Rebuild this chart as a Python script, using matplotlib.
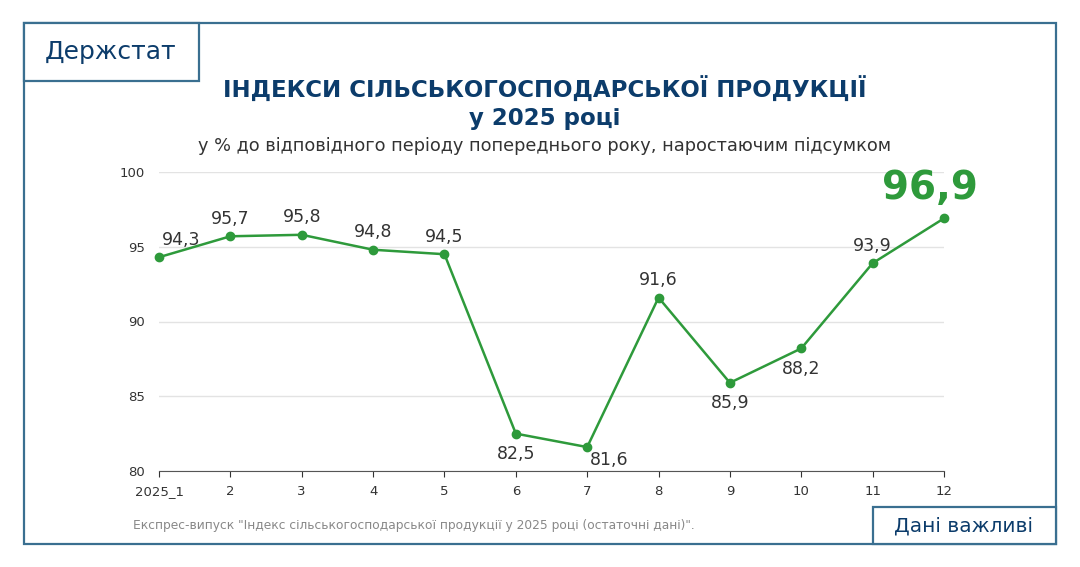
import matplotlib
matplotlib.use("Agg")
import matplotlib.pyplot as plt
from matplotlib.patches import Rectangle

months = list(range(1, 13))
tick_labels = ["2025_1"] + [str(i) for i in range(2, 13)]
values = [94.3, 95.7, 95.8, 94.8, 94.5, 82.5, 81.6, 91.6, 85.9, 88.2, 93.9, 96.9]
label_pos = ["upr", "up", "up", "up", "up", "down", "downr", "up", "down", "down", "up", "big"]

plt.rcParams['font.family'] = ['DejaVu Sans']
W, H = 1080, 567
fig = plt.figure(figsize=(W/100, H/100), dpi=100)
navy = "#0c3c6b"
frame = "#3a6f90"
green = "#2e9a3b"

def fx(x): return x / W
def fy(y): return 1 - y / H

fig.patches.append(Rectangle((fx(24), fy(544)), fx(1056)-fx(24), fy(23)-fy(544),
                             transform=fig.transFigure, fill=False, ec=frame, lw=1.6))
fig.patches.append(Rectangle((fx(24), fy(81)), fx(199)-fx(24), fy(23)-fy(81),
                             transform=fig.transFigure, fc="white", ec=frame, lw=1.6))
fig.patches.append(Rectangle((fx(873), fy(544)), fx(1056)-fx(873), fy(507)-fy(544),
                             transform=fig.transFigure, fc="white", ec=frame, lw=1.6))
fig.text(fx(111), fy(52), "Держстат", ha="center", va="center", fontsize=18, color=navy, fontweight="medium")
fig.text(fx(964), fy(526), "Дані важливі", ha="center", va="center", fontsize=14.5, color=navy)
fig.text(fx(545), fy(90), "ІНДЕКСИ СІЛЬСЬКОГОСПОДАРСЬКОЇ ПРОДУКЦІЇ", ha="center", va="center",
         fontsize=16.5, fontweight="bold", color=navy)
fig.text(fx(545), fy(119), "у 2025 році", ha="center", va="center",
         fontsize=16.5, fontweight="bold", color=navy)
fig.text(fx(545), fy(146), "у % до відповідного періоду попереднього року, наростаючим підсумком",
         ha="center", va="center", fontsize=12.8, color="#333333")
fig.text(fx(133), fy(526), 'Експрес-випуск "Індекс сільськогосподарської продукції у 2025 році (остаточні дані)".',
         ha="left", va="center", fontsize=8.8, color="#888888")

ax = fig.add_axes([fx(159), fy(471), fx(944)-fx(159), fy(172)-fy(471)])
ax.set_xlim(1, 12)
ax.set_ylim(80, 100)
ax.set_yticks([80, 85, 90, 95, 100])
ax.set_xticks(months)
ax.set_xticklabels(tick_labels)
ax.grid(axis="y", color="#e3e3e3", lw=1)
ax.set_axisbelow(True)
for s in ["left", "right", "top"]:
    ax.spines[s].set_visible(False)
ax.spines["bottom"].set_color("#555555")
ax.tick_params(axis="y", length=0, labelsize=9.5, colors="#333333", pad=10)
ax.tick_params(axis="x", length=4, labelsize=9.5, colors="#333333", pad=6)
ax.plot(months, values, color=green, lw=1.8, marker="o", ms=6, clip_on=False, zorder=3)
for x, v, p in zip(months, values, label_pos):
    s = f"{v:.1f}".replace(".", ",")
    kw = dict(textcoords="offset points", ha="center", fontsize=12.5, color="#333333")
    if p == "up":
        ax.annotate(s, (x, v), xytext=(0, 6), va="bottom", **kw)
    elif p == "upr":
        ax.annotate(s, (x, v), xytext=(16, 6), va="bottom", **kw)
    elif p == "down":
        ax.annotate(s, (x, v), xytext=(0, -8), va="top", **kw)
    elif p == "downr":
        ax.annotate(s, (x, v), xytext=(16, -3), va="top", **kw)
    else:
        ax.annotate(s, (x, v), xytext=(-10, 8), textcoords="offset points", ha="center", va="bottom",
                    fontsize=28, fontweight="bold", color=green)

fig.savefig("out.png", dpi=100)
